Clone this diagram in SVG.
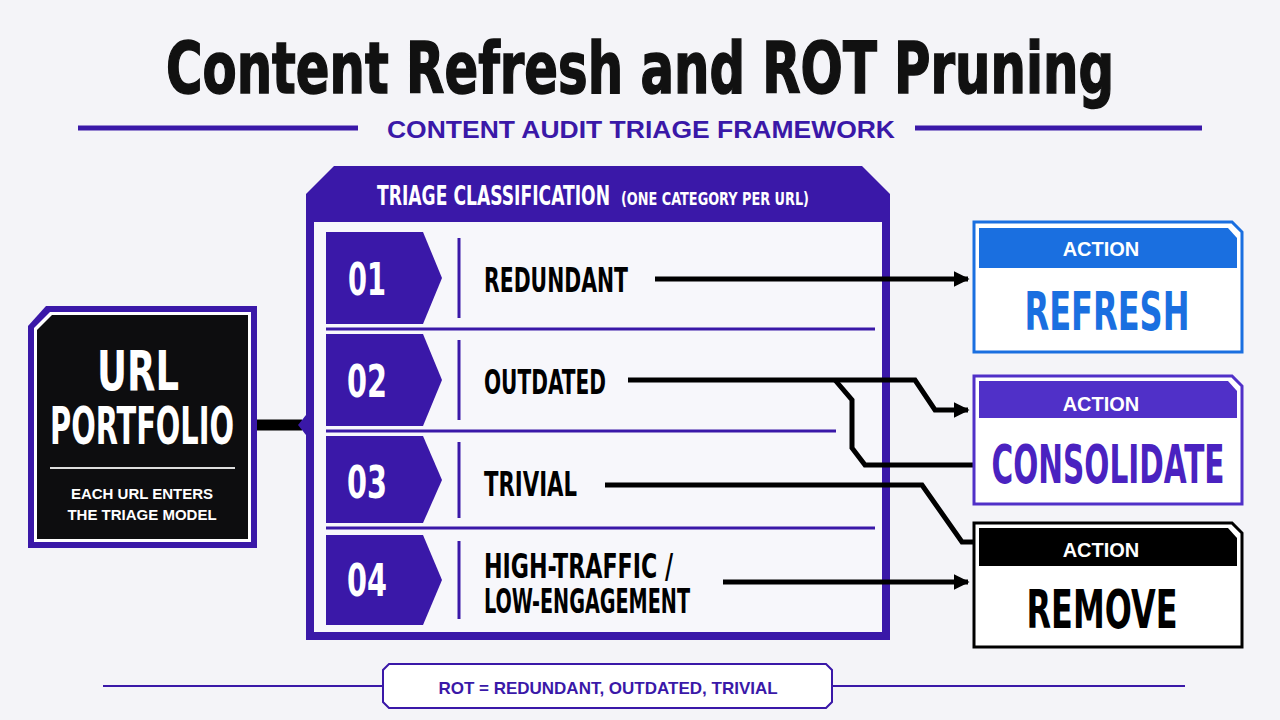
<svg xmlns="http://www.w3.org/2000/svg" width="1280" height="720" viewBox="0 0 1280 720">
<style>
.cn{font-family:"DejaVu Sans Condensed","Liberation Sans",sans-serif;font-weight:bold}
.sa{font-family:"Liberation Sans","DejaVu Sans",sans-serif;font-weight:bold}
.lbl{font-size:34px;fill:#000}
.num{font-size:44px;fill:#fff}
.act{font-size:20px;fill:#fff;text-anchor:middle}
.big{font-size:54px;text-anchor:middle}
.sep{stroke:#3a18a8;stroke-width:3}
.con{fill:none;stroke:#000;stroke-width:5;stroke-linejoin:miter}
</style>
<defs>
<marker id="ah" viewBox="0 0 10 10" refX="9" refY="5" markerWidth="3.2" markerHeight="4" orient="auto" markerUnits="strokeWidth"><path d="M0,0L10,5L0,10z" fill="#000"/></marker>
</defs>
<rect width="1280" height="720" fill="#f4f4f8"/>
<g id="title">
<text x="640" y="93" text-anchor="middle" class="cn" font-size="72" textLength="948" lengthAdjust="spacingAndGlyphs" fill="#111" stroke="#111" stroke-width="1.5">Content Refresh and ROT Pruning</text>
<line x1="78" y1="128" x2="358" y2="128" stroke="#3a18a8" stroke-width="5"/>
<line x1="915" y1="128" x2="1202" y2="128" stroke="#3a18a8" stroke-width="5"/>
<text x="641" y="138" text-anchor="middle" class="sa" font-size="23" fill="#3a18a8" textLength="508" lengthAdjust="spacingAndGlyphs">CONTENT AUDIT TRIAGE FRAMEWORK</text>
</g>
<g id="portfolio">
<path d="M28,326 L46,306 H257 V548 H28Z" fill="#3a18a8"/>
<path d="M34,328 L50,312 H251 V542 H34Z" fill="#fff"/>
<path d="M37,330 L52,315 H248 V539 H37Z" fill="#0d0d0f"/>
<text x="138" y="390" class="cn" font-size="56" fill="#fff" text-anchor="middle" textLength="82" lengthAdjust="spacingAndGlyphs">URL</text>
<text x="142" y="444" class="cn" font-size="52" fill="#fff" text-anchor="middle" textLength="184" lengthAdjust="spacingAndGlyphs">PORTFOLIO</text>
<line x1="50" y1="468" x2="235" y2="468" stroke="#ddd" stroke-width="2"/>
<text x="142" y="499" class="sa" font-size="15" fill="#fff" text-anchor="middle">EACH URL ENTERS</text>
<text x="142" y="520" class="sa" font-size="15" fill="#fff" text-anchor="middle">THE TRIAGE MODEL</text>
</g>
<g id="triage">
<path d="M306,194 L334,166 H862 L890,194 V640 H306Z" fill="#3a18a8"/>
<rect x="314" y="222" width="568" height="410" fill="#f7f7fb"/>
<text x="377" y="205" class="cn" font-size="26" fill="#fff" textLength="233" lengthAdjust="spacingAndGlyphs">TRIAGE CLASSIFICATION</text>
<text x="621" y="205" class="cn" font-size="18" fill="#fff" textLength="188" lengthAdjust="spacingAndGlyphs">(ONE CATEGORY PER URL)</text>
<line class="sep" x1="326" y1="329" x2="875" y2="329"/>
<line class="sep" x1="326" y1="431" x2="836" y2="431"/>
<line class="sep" x1="326" y1="528" x2="875" y2="528"/>
<g id="r1"><path d="M326,232 H423 L442,278 L423,324 H326Z" fill="#3a18a8"/><text x="367" y="295" class="cn num" text-anchor="middle" textLength="38" lengthAdjust="spacingAndGlyphs">01</text><line x1="459" y1="238" x2="459" y2="318" stroke="#3a18a8" stroke-width="3"/><text x="484" y="292" class="cn lbl" textLength="144" lengthAdjust="spacingAndGlyphs">REDUNDANT</text></g>
<g id="r2"><path d="M326,334 H423 L442,380 L423,426 H326Z" fill="#3a18a8"/><text x="367" y="397" class="cn num" text-anchor="middle" textLength="40" lengthAdjust="spacingAndGlyphs">02</text><line x1="459" y1="340" x2="459" y2="420" stroke="#3a18a8" stroke-width="3"/><text x="484" y="394" class="cn lbl" textLength="122" lengthAdjust="spacingAndGlyphs">OUTDATED</text></g>
<g id="r3"><path d="M326,436 H423 L442,480 L423,523 H326Z" fill="#3a18a8"/><text x="367" y="498" class="cn num" text-anchor="middle" textLength="40" lengthAdjust="spacingAndGlyphs">03</text><line x1="459" y1="442" x2="459" y2="518" stroke="#3a18a8" stroke-width="3"/><text x="484" y="496" class="cn lbl" textLength="93" lengthAdjust="spacingAndGlyphs">TRIVIAL</text></g>
<g id="r4"><path d="M326,535 H423 L442,580 L423,625 H326Z" fill="#3a18a8"/><text x="367" y="596" class="cn num" text-anchor="middle" textLength="40" lengthAdjust="spacingAndGlyphs">04</text><line x1="459" y1="541" x2="459" y2="619" stroke="#3a18a8" stroke-width="3"/><text x="484" y="578" class="cn lbl" font-size="30" textLength="189" lengthAdjust="spacingAndGlyphs">HIGH-TRAFFIC /</text><text x="484" y="613" class="cn lbl" font-size="30" textLength="206" lengthAdjust="spacingAndGlyphs">LOW-ENGAGEMENT</text></g>
</g>
<g id="connectors">
<line x1="257" y1="425" x2="302" y2="425" stroke="#000" stroke-width="11"/>
<path d="M298,425 L306,415 L312,425 L306,435Z" fill="#3a18a8"/>
<path class="con" d="M655,279 H968" marker-end="url(#ah)"/>
<path class="con" d="M628,380 H915 L935,410 H968" marker-end="url(#ah)"/>
<path class="con" d="M835,380 L852,400 V448 L865,465 H975"/>
<path class="con" d="M605,485 H922 L962,542 H975"/>
<path class="con" d="M723,582 H968" marker-end="url(#ah)"/>
</g>
<g id="refresh">
<path d="M974,222 H1232 L1242,232 V352 H974Z" fill="#fff" stroke="#1a6fe0" stroke-width="3"/>
<path d="M979,228 H1228 L1237,238 V268 H979Z" fill="#1a6fe0"/>
<text x="1101" y="256" class="sa act">ACTION</text>
<text x="1107" y="330" class="cn big" fill="#1a6fe0" textLength="165" lengthAdjust="spacingAndGlyphs">REFRESH</text>
</g>
<g id="consolidate">
<path d="M974,376 H1232 L1242,386 V504 H974Z" fill="#fff" stroke="#5030c8" stroke-width="3"/>
<path d="M979,381 H1228 L1237,391 V418 H979Z" fill="#5030c8"/>
<text x="1101" y="411" class="sa act">ACTION</text>
<text x="1108" y="483" class="cn big" fill="#4a22c0" textLength="233" lengthAdjust="spacingAndGlyphs">CONSOLIDATE</text>
</g>
<g id="remove">
<path d="M974,523 H1232 L1242,533 V647 H974Z" fill="#fff" stroke="#000" stroke-width="3"/>
<path d="M979,528 H1228 L1237,538 V566 H979Z" fill="#000"/>
<text x="1101" y="557" class="sa act">ACTION</text>
<text x="1102" y="628" class="cn big" fill="#000" textLength="151" lengthAdjust="spacingAndGlyphs">REMOVE</text>
</g>
<g id="footer">
<line x1="103" y1="686" x2="1185" y2="686" stroke="#3a18a8" stroke-width="2"/>
<path d="M389,664 H826 L832,670 V702 L826,708 H389 L383,702 V670Z" fill="#fff" stroke="#3a18a8" stroke-width="2"/>
<text x="608" y="694" class="sa" font-size="17" fill="#3a18a8" text-anchor="middle">ROT = REDUNDANT, OUTDATED, TRIVIAL</text>
</g>
</svg>
